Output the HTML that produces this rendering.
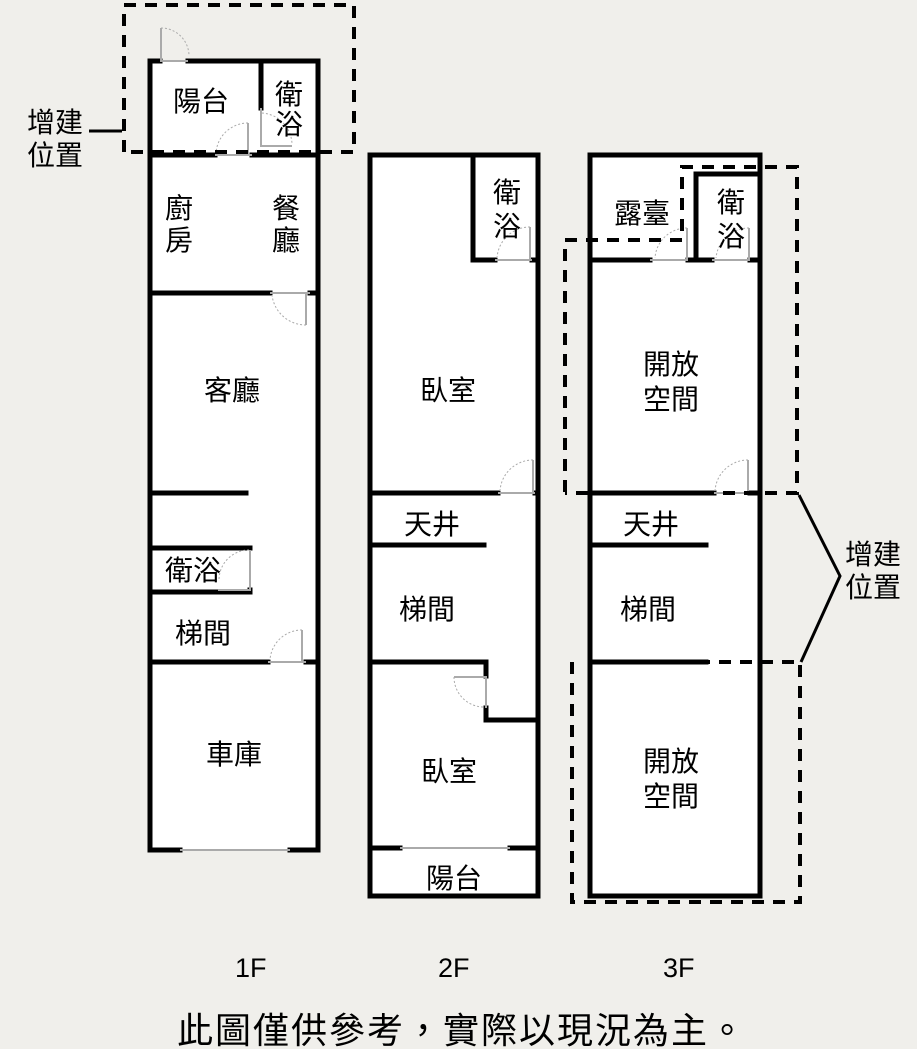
<!DOCTYPE html>
<html><head><meta charset="utf-8"><style>
html,body{margin:0;padding:0;background:#f0efeb;}
svg{display:block;}
text{font-family:"Liberation Sans","Noto Sans CJK TC",sans-serif;fill:#000;}
</style></head><body>
<svg width="917" height="1049" viewBox="0 0 917 1049" xmlns="http://www.w3.org/2000/svg">
<rect width="917" height="1049" fill="#f0efeb"/>
<rect x="150" y="61" width="168" height="789" fill="#fff"/>
<rect x="370" y="155" width="168" height="741" fill="#fff"/>
<rect x="590" y="155" width="170" height="741" fill="#fff"/>

<g stroke="#000" stroke-width="5" fill="none" stroke-linecap="square">
<path d="M188 61 H318 V850 H290 M180 850 H150 V61 H160"/>
<path d="M261 61 V108"/>
<path d="M150 155 H215 M252 155 H318"/>
<path d="M150 293 H270 M310 293 H318"/>
<path d="M150 493 H246"/>
<path d="M150 548 H250 M150 592 H250 V590"/>
<path d="M150 662 H268 M306 662 H318"/>
<path d="M370 155 H538 V896 H370 Z"/>
<path d="M473 155 V260 H495 M532 260 H538"/>
<path d="M370 493 H498 M535 493 H538"/>
<path d="M370 545 H484"/>
<path d="M370 662 H486 V676 M486 708 V720 H538"/>
<path d="M370 848 H400 M510 848 H538"/>
<path d="M590 155 H760 V896 H590 Z"/>
<path d="M696 260 V174 H760"/>
<path d="M590 260 H650 M688 260 H712 M750 260 H760"/>
<path d="M590 493 H714 M750 493 H760"/>
<path d="M590 545 H706"/>
<path d="M590 662 H706"/>
</g>

<g stroke="#aaa" stroke-width="2" fill="none">
<path d="M160 61 H188"/><path d="M161 60 V28"/><path d="M161 28 A28 28 0 0 1 189 56" stroke-dasharray="2 2" stroke-width="1"/>
<path d="M215 155 H252"/><path d="M248 154 V123"/><path d="M248 123 A32 32 0 0 0 216 153" stroke-dasharray="2 2" stroke-width="1"/>
<path d="M261 108 V146 H292"/><path d="M262 113 A32 32 0 0 1 292 144" stroke-dasharray="2 2" stroke-width="1"/>
<path d="M270 293 H310"/><path d="M306 294 V325"/><path d="M306 325 A34 34 0 0 1 272 295" stroke-dasharray="2 2" stroke-width="1"/>
<path d="M250 550 V590 H218"/><path d="M249 550 A30 30 0 0 0 219 580" stroke-dasharray="2 2" stroke-width="1"/>
<path d="M268 662 H306"/><path d="M302 661 V630"/><path d="M302 630 A32 32 0 0 0 270 660" stroke-dasharray="2 2" stroke-width="1"/>
<path d="M180 850 H290"/>
<path d="M495 260 H532"/><path d="M530 259 V227"/><path d="M530 227 A33 33 0 0 0 497 258" stroke-dasharray="2 2" stroke-width="1"/>
<path d="M498 493 H535"/><path d="M533 492 V460"/><path d="M533 460 A33 33 0 0 0 500 491" stroke-dasharray="2 2" stroke-width="1"/>
<path d="M486 676 V708"/><path d="M485 677 H454"/><path d="M454 677 A30 30 0 0 0 484 707" stroke-dasharray="2 2" stroke-width="1"/>
<path d="M400 848 H510"/>
<path d="M650 260 H688"/><path d="M687 259 V228"/><path d="M687 228 A32 32 0 0 0 655 258" stroke-dasharray="2 2" stroke-width="1"/>
<path d="M712 260 H750"/><path d="M749 259 V228"/><path d="M749 228 A33 33 0 0 0 716 258" stroke-dasharray="2 2" stroke-width="1"/>
<path d="M714 493 H750"/><path d="M748 492 V460"/><path d="M748 460 A33 33 0 0 0 715 491" stroke-dasharray="2 2" stroke-width="1"/>
</g>

<g stroke="#000" stroke-width="4" fill="none" stroke-dasharray="12 9">
<path d="M124 152 V5 H354 V152 H124"/>
<path d="M565 492 V240 H682 V167 H797 V493 H565"/>
<path d="M572 662 V902 H800 V662 H708"/>
</g>
<g stroke="#000" stroke-width="3" fill="none">
<path d="M89 131 H122"/>
<path d="M799 495 L840 576 L801 662"/>
</g>

<g font-size="28">
<text x="173" y="111">陽台</text>
<text x="275" y="104">衛</text><text x="275" y="134">浴</text>
<text x="165" y="218">廚</text><text x="165" y="250">房</text>
<text x="272" y="218">餐</text><text x="272" y="250">廳</text>
<text x="204" y="400">客廳</text>
<text x="165" y="580">衛浴</text>
<text x="175" y="643">梯間</text>
<text x="206" y="764">車庫</text>
<text x="493" y="202">衛</text><text x="493" y="236">浴</text>
<text x="420" y="400">臥室</text>
<text x="404" y="534">天井</text>
<text x="399" y="619">梯間</text>
<text x="421" y="781">臥室</text>
<text x="426" y="888">陽台</text>
<text x="614" y="223">露臺</text>
<text x="717" y="212">衛</text><text x="717" y="246">浴</text>
<text x="643" y="374">開放</text><text x="643" y="409">空間</text>
<text x="623" y="534">天井</text>
<text x="620" y="619">梯間</text>
<text x="643" y="771">開放</text><text x="643" y="806">空間</text>
<text x="27" y="132">增建</text><text x="27" y="165">位置</text>
<text x="845" y="564">增建</text><text x="845" y="597">位置</text>
</g>
<g font-size="27">
<text x="235" y="977">1F</text>
<text x="438" y="977">2F</text>
<text x="663" y="977">3F</text>
</g>
<text x="462" y="1043" font-size="36" text-anchor="middle" letter-spacing="2">此圖僅供參考，實際以現況為主。</text>
</svg>
</body></html>
